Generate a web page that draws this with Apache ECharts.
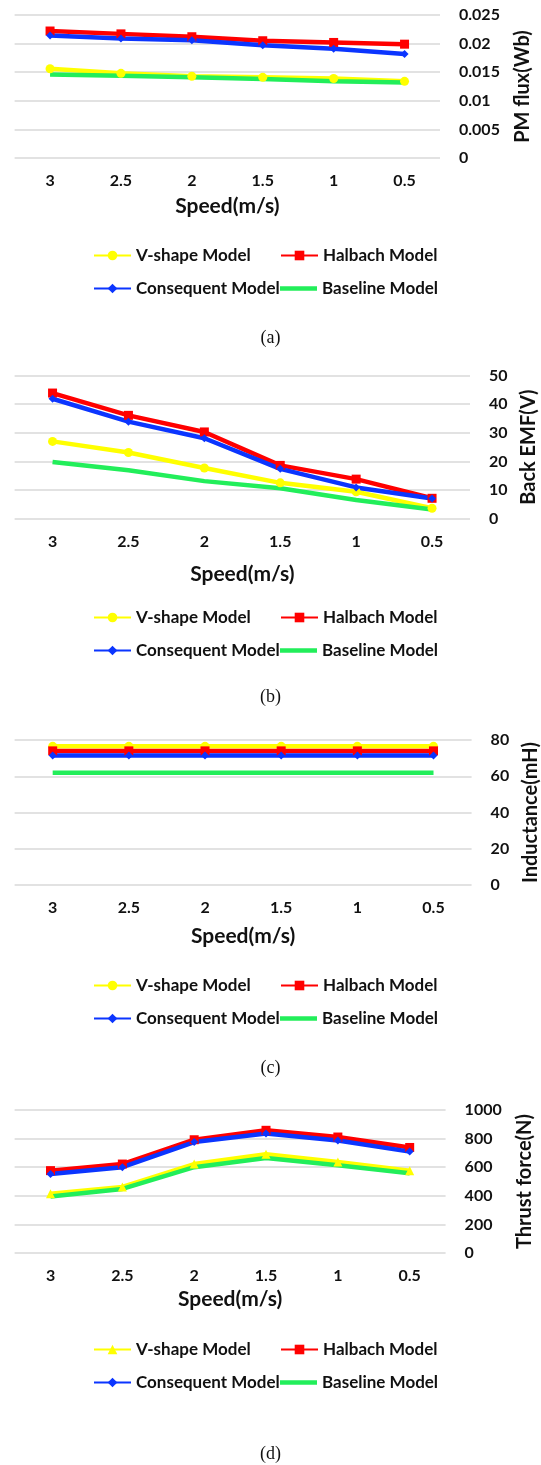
<!DOCTYPE html>
<html>
<head>
<meta charset="utf-8">
<script src="https://cdn.jsdelivr.net/npm/echarts@6/dist/echarts.min.js"></script>
<style>
  html, body { margin: 0; padding: 0; background: #fff; }
  #chart { width: 541px; height: 1465px; }
</style>
</head>
<body>
<div id="chart"></div>
<script>
// speed categories (x axis)
const speeds = ['3', '2.5', '2', '1.5', '1', '0.5'];

// (a) PM flux (Wb)
const fluxVshape     = [0.0156, 0.0148, 0.0143, 0.0141, 0.0139, 0.0134];
const fluxHalbach    = [0.0222, 0.0217, 0.0212, 0.0205, 0.0202, 0.0199];
const fluxConsequent = [0.0214, 0.0209, 0.0206, 0.0197, 0.0191, 0.0182];
const fluxBaseline   = [0.0146, 0.0144, 0.0141, 0.0138, 0.0134, 0.0132];

// (b) Back EMF (V)
const emfVshape     = [27.0, 23.1, 17.7, 12.5, 9.4, 3.6];
const emfHalbach    = [43.9, 36.1, 30.3, 18.6, 13.8, 7.1];
const emfConsequent = [41.9, 33.9, 28.1, 17.4, 10.9, 7.0];
const emfBaseline   = [19.8, 16.9, 13.1, 10.6, 6.5, 3.2];

// (c) Inductance (mH)
const indVshape     = [76.5, 76.5, 76.5, 76.5, 76.5, 76.5];
const indHalbach    = [74, 74, 74, 74, 74, 74];
const indConsequent = [71.5, 71.5, 71.5, 71.5, 71.5, 71.5];
const indBaseline   = [62, 62, 62, 62, 62, 62];

// (d) Thrust force (N)
const thrustVshape     = [415, 462, 622, 690, 637, 576];
const thrustHalbach    = [576, 622, 792, 858, 811, 738];
const thrustConsequent = [552, 600, 776, 836, 787, 709];
const thrustBaseline   = [395, 448, 600, 665, 613, 557];

const yNames = ['PM flux(Wb)', 'Back EMF(V)', 'Inductance(mH)', 'Thrust force(N)'];
const yMax = [0.025, 50, 80, 1000];
const yStep = [0.005, 10, 20, 200];
const captions = ['(a)', '(b)', '(c)', '(d)'];

const seriesData = [
  [fluxVshape, fluxHalbach, fluxConsequent, fluxBaseline],
  [emfVshape, emfHalbach, emfConsequent, emfBaseline],
  [indVshape, indHalbach, indConsequent, indBaseline],
  [thrustVshape, thrustHalbach, thrustConsequent, thrustBaseline]
];

const FONT = 'Lato';
const colors = ['#ffff00', '#ff0000', '#0b35ff', '#22ee5a'];
const names = ['V-shape Model', 'Halbach Model', 'Consequent Model', 'Baseline Model'];

// layout of each panel
const panels = [
  { left: 14.6, top: 15,    width: 425.4, height: 143, nameGap: 73, xGap: 38, legendY: 257,  cap: 339 },
  { left: 14.6, top: 375.6, width: 455.4, height: 143, nameGap: 47, xGap: 45, legendY: 619,  cap: 698 },
  { left: 14.6, top: 740,   width: 457,   height: 145, nameGap: 45, xGap: 41, legendY: 987,  cap: 1069 },
  { left: 14.6, top: 1110,  width: 431,   height: 143, nameGap: 69, xGap: 36, legendY: 1351, cap: 1455 }
];

const grid = [], xAxis = [], yAxis = [], series = [], legend = [], graphic = [];

panels.forEach(function (p, i) {
  grid.push({ left: p.left, top: p.top, width: p.width, height: p.height, outerBoundsMode: 'none' });

  xAxis.push({
    type: 'category', gridIndex: i, data: speeds, boundaryGap: true,
    axisLine: { show: false }, axisTick: { show: false },
    axisLabel: { margin: 15, color: '#111', fontFamily: FONT, fontWeight: 'bold', fontSize: 16 },
    name: 'Speed(m/s)', nameLocation: 'middle', nameGap: p.xGap,
    nameTextStyle: { color: '#111', fontFamily: FONT, fontWeight: 'bold', fontSize: 21 }
  });

  yAxis.push({
    type: 'value', gridIndex: i, position: 'right', min: 0, max: yMax[i], interval: yStep[i],
    axisLine: { show: false }, axisTick: { show: false },
    splitLine: { lineStyle: { color: '#d9d9d9', width: 1.5 } },
    axisLabel: {
      margin: 19, color: '#111', fontFamily: FONT, fontWeight: 'bold', fontSize: 16,
      formatter: function (v) { return String(v); }
    },
    name: yNames[i], nameLocation: 'middle', nameRotate: 90, nameGap: p.nameGap,
    nameTextStyle: { color: '#111', fontFamily: FONT, fontWeight: 'bold', fontSize: 20 }
  });

  const symbols = [i === 3 ? 'triangle' : 'circle', 'rect', 'diamond', 'none'];
  const sizes = [9, 9, 8, 0];
  const sNames = names.map(function (n, k) { return n + (k === 0 && i === 3 ? ' (d)' : ''); });
  seriesData[i].forEach(function (d, k) {
    series.push({
      name: sNames[k],
      type: 'line', xAxisIndex: i, yAxisIndex: i, data: d,
      symbol: symbols[k], symbolSize: sizes[k], showSymbol: k !== 3,
      itemStyle: { color: colors[k] },
      lineStyle: { color: colors[k], width: 4.5 },
      animation: false
    });
  });

  // one legend per item so the two columns line up
  const spots = [[93, 0], [280, 0], [93, 1], [280, 1]];
  sNames.forEach(function (n, k) {
    const item = k === 3
      ? { name: n, icon: 'path://M0,0 L37,0 L37,4.5 L0,4.5 Z' }
      : { name: n };
    legend.push({
      data: [item], left: spots[k][0], top: p.legendY + spots[k][1] * 33 - 10, padding: 0,
      itemWidth: 37, itemHeight: 12, selectedMode: false,
      formatter: function (s) { return s.replace(' (d)', ''); },
      textStyle: { color: '#111', fontFamily: FONT, fontWeight: 'bold', fontSize: 17 }
    });
  });

  graphic.push({
    type: 'text', left: 'center', top: p.cap - 10,
    style: { text: captions[i], fill: '#111', font: '18px "Liberation Serif"' }
  });
});

const myChart = echarts.init(document.getElementById('chart'));
myChart.setOption({
  animation: false,
  grid: grid, xAxis: xAxis, yAxis: yAxis,
  legend: legend, series: series, graphic: graphic
});
</script>
</body>
</html>
